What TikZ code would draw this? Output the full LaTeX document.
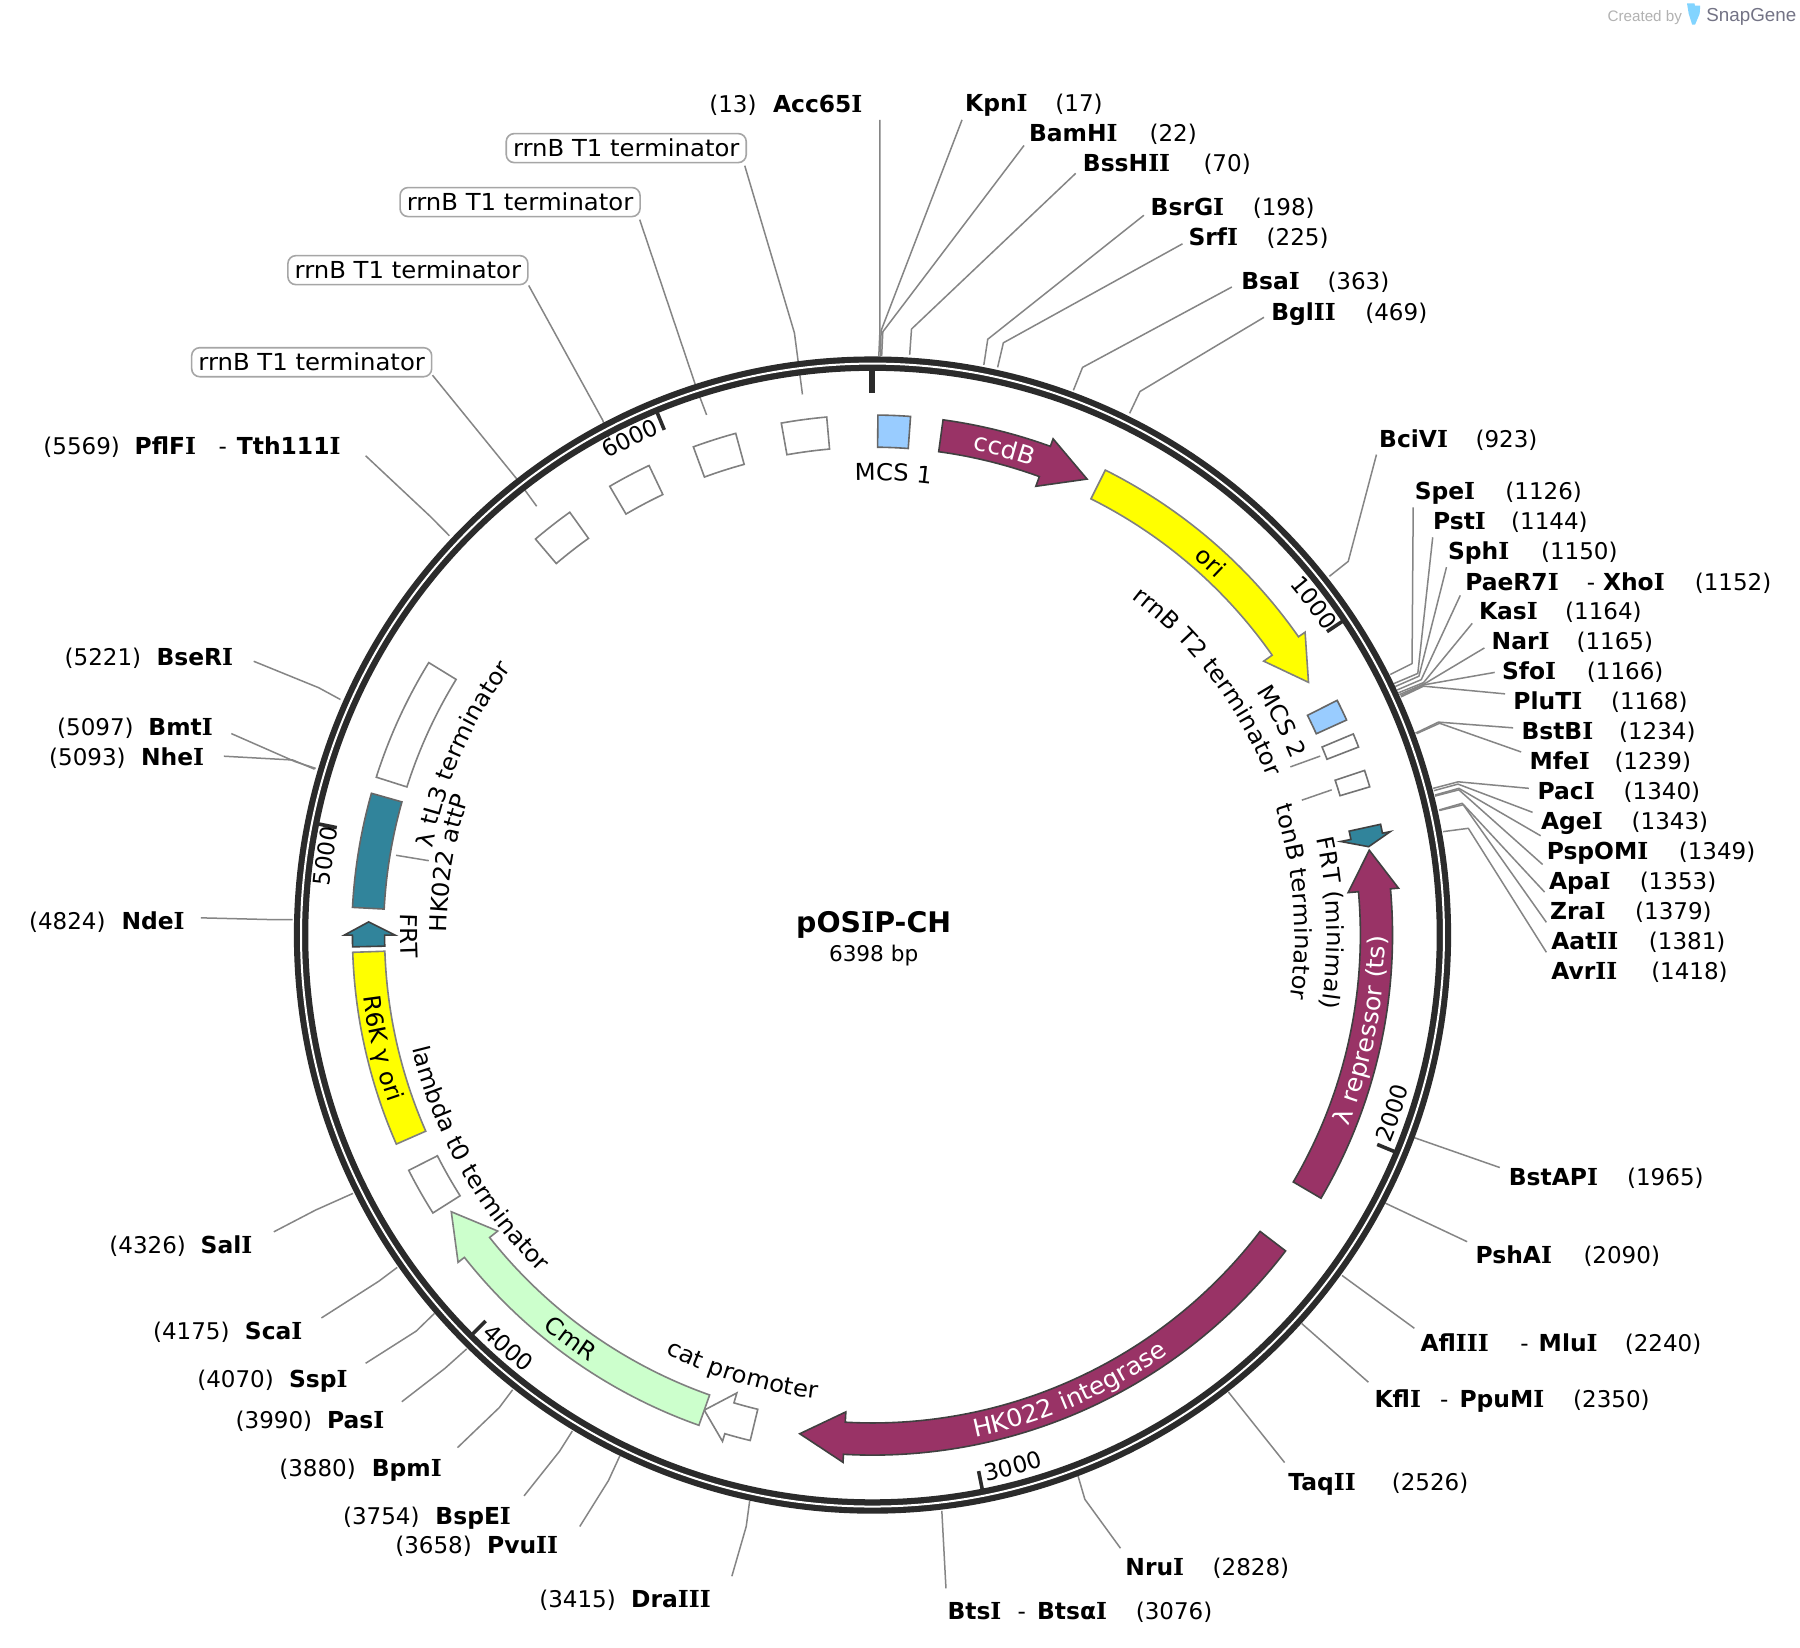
\documentclass[tikz,border=0pt]{standalone}
\usepackage{fontspec}
\setmainfont{DejaVu Sans}
\newfontfamily\logofont{Liberation Sans}
\newfontfamily\vIfont{DejaVu Serif}
\newfontfamily\stretchfont[FakeStretch=1.04]{DejaVu Sans}
\usetikzlibrary{decorations.text}
\definecolor{maroonf}{HTML}{993366}
\definecolor{tealf}{HTML}{31849B}
\definecolor{bluef}{HTML}{99CCFF}
\definecolor{greenf}{HTML}{CCFFCC}
\definecolor{yellowf}{HTML}{FFFF00}
\definecolor{ringc}{HTML}{2B2B2B}
\definecolor{leadc}{HTML}{858585}
\newcommand{\fsz}{\fontsize{11.7}{14}\selectfont}
\newcommand{\fnum}{\fontsize{11.5}{14}\selectfont}
\newcommand{\ftxt}{\stretchfont\fontsize{11.7}{14}\selectfont}
\newcommand{\fwht}{\stretchfont\fontsize{12.2}{14}\selectfont\color{white}}
\newcommand{\vI}{{\vIfont I}}
\tikzset{
  lab/.style={anchor=base west,inner sep=0pt,font=\fnum},
  labb/.style={anchor=base west,inner sep=0pt,font=\fsz\bfseries},
  leader/.style={draw=leadc,line width=.75pt,line join=round},
  featline/.style={draw=#1,line width=.8pt,line join=miter},
  tickmark/.style={draw=ringc,line width=1.8pt},
  termbox/.style={draw=black!35,line width=.8pt,rounded corners=4pt,minimum width=120pt,minimum height=14.5pt,inner sep=0pt,font=\ftxt,fill=white}
}
% id, x name, y centre, name, x number, number, three leader points
\newcommand{\enzyme}[9]{%
  \node[labb] (#1-n) at (#2,#3+7) {#4};
  \node[lab] (#1-p) at (#5,#3+7) {(#6)};
  \coordinate (#1-a) at (#7); \coordinate (#1-b) at (#8); \coordinate (#1-c) at (#9);
  \draw[leader] (#1-a) -- (#1-b) -- (#1-c);
}
\newcommand{\enzmore}[5]{%
  \node[lab] (#1-d) at (#2,#3+7) {-};
  \node[labb] (#1-m) at (#4,#3+7) {#5};
}
\newcommand{\blockf}[6]{% fill, line, th1, th2, r1, r2
  \draw[featline=#2,fill=#1] ({90-#3}:#6) arc[start angle={90-#3},end angle={90-#4},radius=#6]
    -- ({90-#4}:#5) arc[start angle={90-#4},end angle={90-#3},radius=#5] -- cycle;
}
\newcommand{\arrowf}[5]{% fill, line, th tail, th base, th tip
  \draw[featline=#2,fill=#1] ({90-#3}:453) arc[start angle={90-#3},end angle={90-#4},radius=453]
    -- ({90-#4}:460) -- ({90-#5}:439) -- ({90-#4}:416) -- ({90-#4}:425)
    arc[start angle={90-#4},end angle={90-#3},radius=425] -- cycle;
}
\newcommand{\cwlabel}[4]{%
  \path[decorate,decoration={text along path,text align=center,text={|#3|#4}}]
    ({90-(#2-30)}:#1) arc[start angle={90-(#2-30)},end angle={90-(#2+30)},radius=#1];
}
\newcommand{\ccwlabel}[4]{%
  \path[decorate,decoration={text along path,text align=center,text={|#3|#4}}]
    ({90-(#2+30)}:#1) arc[start angle={90-(#2+30)},end angle={90-(#2-30)},radius=#1];
}
\newcommand{\tickm}[1]{\draw[tickmark] ({90-#1}:476) -- ({90-#1}:492);}
\begin{document}
\begin{tikzpicture}[x=.574pt,y=-.574pt]
\useasboundingbox (0,0) rectangle (1567.94,1435.5);
\fill[white] (0,0) rectangle (1567.94,1435.5);
% logo
\node[anchor=base west,inner sep=0pt,text=black!30,font=\logofont\fontsize{7.6}{10}\selectfont] (created) at (1400,18.5) {Created by};
\node[anchor=base west,inner sep=0pt,text=black!30!blue!10!gray,font=\logofont\fontsize{9.4}{12}\selectfont] (snap) at (1486,19) {SnapGene};
\fill[bluef!85!cyan] (1469.5,3) -- (1476,3) -- (1476.5,5) -- (1481,5) -- (1480.5,12) -- (1476.5,21.5) -- (1474,21.5) -- (1471,12) -- cycle;
% right side enzymes
\enzyme{acc}{673}{90.7}{Acc65\vI}{617.5}{13}{766.5,104.5}{766.5,288}{765.5,310}
\enzyme{kpn}{840.4}{90}{Kpn\vI}{919}{17}{838,104.4}{767.5,288}{767,310}
\enzyme{bam}{896}{116.4}{BamH\vI}{1001}{22}{892,126.7}{769,289}{768,310}
\enzyme{bss}{943}{142.7}{BssH\vI\vI}{1048}{70}{937,151}{794,286.6}{792.4,309}
\enzyme{bsr}{1002}{181}{BsrG\vI}{1091}{198}{996.4,187.5}{860.4,295.5}{857,317.8}
\enzyme{srf}{1035}{207}{Srf\vI}{1103}{225}{1030,212.4}{874,298.6}{869,320}
\enzyme{bsa}{1081}{245}{Bsa\vI}{1156}{363}{1073,250}{943,320}{935,340}
\enzyme{bgl}{1107}{272}{Bgl\vI\vI}{1189}{469}{1101,276.4}{993,341}{984,360}
\enzyme{bci}{1201}{383}{BciV\vI}{1285}{923}{1199,396}{1174.4,489}{1158,502}
\enzyme{spe}{1232}{428.4}{Spe\vI}{1311}{1126}{1231,442}{1230,578}{1211,587.5}
\enzyme{pst}{1248}{454}{Pst\vI}{1316}{1144}{1248,468}{1235,586.6}{1214,595.5}
\enzyme{sph}{1261}{480}{Sph\vI}{1342}{1150}{1260,494}{1236,589}{1215.4,598}
\enzyme{pae}{1276}{507}{PaeR7\vI}{1476}{1152}{1272,518.6}{1238,592}{1217,601}
\enzmore{pae}{1382}{507}{1396}{Xho\vI}
\enzyme{kas}{1288}{533}{Kas\vI}{1363}{1164}{1282.4,543}{1240,594.6}{1218,603.5}
\enzyme{nar}{1299}{559}{Nar\vI}{1373}{1165}{1293,564.4}{1241,595.5}{1219,605}
\enzyme{sfo}{1308}{585}{Sfo\vI}{1382}{1166}{1302,585.7}{1241,596.4}{1220,606}
\enzyme{plu}{1318}{611}{PluT\vI}{1403}{1168}{1311,604.4}{1240,597.7}{1220.4,607}
\enzyme{bstb}{1325}{637}{BstB\vI}{1410}{1234}{1318,634}{1253,629}{1233,638.6}
\enzyme{mfe}{1332}{663.5}{Mfe\vI}{1406}{1239}{1325,655}{1254,630}{1234,639}
\enzyme{pac}{1339}{689}{Pac\vI}{1414}{1340}{1331.8,686.7}{1270.2,681}{1248.4,686.7}
\enzyme{age}{1342}{715.6}{Age\vI}{1421}{1343}{1335,707.6}{1270,683}{1249,688.7}
\enzyme{psp}{1347}{742}{PspOM\vI}{1462}{1349}{1342,728}{1270.8,686.7}{1250,692.5}
\enzyme{apa}{1349}{768}{Apa\vI}{1428}{1353}{1343.7,753}{1270.8,688}{1250,693.4}
\enzyme{zra}{1350}{794}{Zra\vI}{1424}{1379}{1345.4,777}{1273.7,699.7}{1253.7,705.5}
\enzyme{aat}{1351}{820}{Aat\vI\vI}{1436}{1381}{1347,803.4}{1274.6,701}{1253.7,706}
\enzyme{avr}{1351}{846.5}{Avr\vI\vI}{1438}{1418}{1347,829.5}{1279,721.5}{1257,724.4}
\enzyme{bsta}{1314}{1026}{BstAP\vI}{1417}{1965}{1306.4,1017}{1232,991}{1232,991}
\enzyme{psh}{1285}{1094}{PshA\vI}{1379}{2090}{1278,1081.6}{1206,1047.7}{1206,1047.7}
\enzyme{afl}{1237}{1170.6}{Afl\vI\vI\vI}{1415}{2240}{1232,1157}{1169,1111}{1169,1111}
\enzmore{afl}{1324}{1170.6}{1340}{Mlu\vI}
\enzyme{kfl}{1197}{1219}{Kfl\vI}{1370}{2350}{1192,1204}{1134,1153}{1134,1153}
\enzmore{kfl}{1254}{1219}{1271}{PpuM\vI}
\enzyme{taq}{1122}{1291}{Taq\vI\vI}{1212}{2526}{1119,1274}{1070,1212.5}{1070,1212.5}
\enzyme{nru}{980}{1365.6}{Nru\vI}{1056}{2828}{976,1348.6}{945,1306}{939,1285.5}
\enzyme{bts}{825}{1404}{Bts\vI}{989}{3076}{824,1383.5}{820.4,1316}{820.4,1316}
\enzmore{bts}{886}{1404}{903}{Btsα\vI}
% left side enzymes
\enzyme{pfl}{117}{388.5}{PflF\vI}{37.5}{5569}{318.5,397}{375,450}{391.5,466.7}
\enzmore{pfl}{190}{388.5}{206}{Tth111\vI}
\enzyme{bse}{136}{573}{BseR\vI}{56}{5221}{221,576}{277.5,599}{296.5,609.3}
\enzyme{bmt}{129}{634}{Bmt\vI}{49.5}{5097}{201.5,639}{257.5,663.6}{275,669.3}
\enzyme{nhe}{122.5}{660}{Nhe\vI}{42.5}{5093}{195,658.7}{255,662}{274,670}
\enzyme{nde}{105.5}{803}{Nde\vI}{25}{4824}{175,799.5}{235,801}{255,801}
\enzyme{sal}{174.5}{1085}{Sal\vI}{95}{4326}{238.5,1073}{275,1054}{307.5,1039.5}
\enzyme{sca}{213}{1160}{Sca\vI}{133}{4175}{280,1148}{330,1116}{346,1104}
\enzyme{ssp}{251.5}{1202}{Ssp\vI}{171.5}{4070}{318.5,1187.5}{362.5,1159.5}{378.5,1144}
\enzyme{pas}{284.5}{1237}{Pas\vI}{205}{3990}{350,1221}{387.5,1192}{406.5,1175}
\enzyme{bpm}{323.5}{1279}{Bpm\vI}{243}{3880}{398.5,1261}{435,1226}{446.5,1210.6}
\enzyme{bspe}{379}{1321}{BspE\vI}{298.5}{3754}{456.5,1303}{487.5,1264}{498.5,1246.6}
\enzyme{pvu}{424}{1346.6}{Pvu\vI\vI}{344}{3658}{505,1329.7}{530,1289.7}{540,1268}
\enzyme{dra}{549.5}{1393.6}{Dra\vI\vI\vI}{469.5}{3415}{637.5,1373}{650,1329.7}{653,1307.5}
% rrnB T1 terminator leaders and boxes
\node[termbox] (t1a) at (545.5,129) {rrnB T1 terminator};
\node[termbox] (t1b) at (453,176) {rrnB T1 terminator};
\node[termbox] (t1c) at (355.3,235.3) {rrnB T1 terminator};
\node[termbox] (t1d) at (271.5,315.5) {rrnB T1 terminator};
\coordinate (t1a-b) at (692,290); \coordinate (t1a-c) at (699,343.6);
\coordinate (t1b-b) at (607,339); \coordinate (t1b-c) at (615.5,361.4);
\coordinate (t1c-b) at (525,366); \coordinate (t1c-c) at (531,383.6);
\coordinate (t1d-b) at (450,417); \coordinate (t1d-c) at (467.5,441);
\draw[leader] (t1a.south east) ++(-2,2) -- (t1a-b) -- (t1a-c);
\draw[leader] (t1b.south east) ++(-1,2) -- (t1b-b) -- (t1b-c);
\draw[leader] (t1c.south east) ++(0,0) -- (t1c-b) -- (t1c-c);
\draw[leader] (t1d.south east) ++(0,-2) -- (t1d-b) -- (t1d-c);
% inner leaders
\coordinate (t2a) at (1124,668); \coordinate (t2b) at (1150,658.6);
\coordinate (tba) at (1134,697); \coordinate (tbb) at (1160,688);
\coordinate (ata) at (345,745); \coordinate (atb) at (373.5,749.7);
\draw[leader] (t2a) -- (t2b);
\draw[leader] (tba) -- (tbb);
\draw[leader] (ata) -- (atb);
% centre
\node[inner sep=0pt,font=\fontsize{14.2}{17}\selectfont\bfseries] (title) at (761,806) {pOS\vI P-CH};
\node[inner sep=0pt,font=\fontsize{10.8}{13}\selectfont] (size) at (761,832) {6398 bp};
\begin{scope}[shift={(760,814.5)},x=.574pt,y=.574pt]
% backbone
\draw[ringc,line width=7.2pt] (0,0) circle[radius=497.75];
\draw[white,line width=1pt] (0,0) circle[radius=497.8];
\draw[ringc,line width=3pt] (90:492) -- (90:472);
\tickm{56.27}\tickm{112.53}\tickm{168.8}\tickm{225.07}\tickm{281.34}\tickm{337.6}
% features
\blockf{bluef}{black!60}{0.6}{4.2}{425}{453}
\arrowf{maroonf}{black!75}{7.8}{20}{25.2}
\arrowf{yellowf}{black!50}{26.6}{55}{59.9}
\blockf{bluef}{black!60}{63.2}{65.6}{424.5}{453.5}
\blockf{white}{black!55}{67.3}{68.85}{424.5}{454}
\blockf{white}{black!55}{71.5}{73.4}{425}{452}
\arrowf{tealf}{black!75}{77.7}{78.7}{79.9}
\arrowf{maroonf}{black!75}{120.4}{84.9}{80.3}
\arrowf{maroonf}{black!75}{127.4}{183.2}{188.3}
\arrowf{white}{black!50}{193.6}{196.5}{199.5}
\arrowf{greenf}{black!50}{199.5}{231.7}{236.7}
\blockf{white}{black!50}{237.7}{243.1}{425}{453}
\blockf{yellowf}{black!50}{246.3}{268.1}{425}{453}
\arrowf{tealf}{black!75}{268.7}{270}{271.5}
\blockf{tealf}{black!60}{273.05}{285.8}{426}{453.6}
\blockf{white}{black!50}{287.65}{301.55}{425.6}{453.6}
\blockf{white}{black!50}{319.6}{324.4}{425}{453}
\blockf{white}{black!50}{329.65}{334.55}{425}{453}
\blockf{white}{black!50}{339.85}{344.75}{425}{453}
\blockf{white}{black!50}{349.9}{354.95}{425}{453}
% curved labels, clockwise
\cwlabel{431.5}{15.2}{\fwht}{ccdB}
\cwlabel{431.5}{42.2}{\ftxt}{ori}
\cwlabel{396}{2.6}{\ftxt}{MCS 1}
\cwlabel{396}{62.5}{\ftxt}{MCS 2}
\cwlabel{370}{52.9}{\ftxt}{rrnB T2 terminator}
\cwlabel{368}{85.5}{\ftxt}{tonB terminator}
\cwlabel{396}{88.5}{\ftxt}{FRT (minimal)}
\cwlabel{371}{279.6}{\ftxt}{HK022 attP}
\cwlabel{391}{293.8}{\ftxt}{λ tL3 terminator}
% curved labels, counterclockwise
\ccwlabel{446.5}{101}{\fwht}{λ repressor (ts)}
\ccwlabel{446.5}{156.6}{\fwht}{HK022 integrase}
\ccwlabel{446.5}{216.8}{\ftxt}{CmR}
\ccwlabel{446.5}{257}{\ftxt}{R6K γ ori}
\ccwlabel{411.5}{269.9}{\ftxt}{FRT}
\ccwlabel{413}{240.4}{\ftxt}{lambda t0 terminator}
\ccwlabel{407}{196.6}{\ftxt}{cat promoter}
% tick labels
\cwlabel{474.5}{53}{\fnum}{1000}
\ccwlabel{486}{108.9}{\fnum}{2000}
\ccwlabel{486}{165.2}{\fnum}{3000}
\ccwlabel{487}{221.4}{\fnum}{4000}
\cwlabel{474.5}{278.2}{\fnum}{5000}
\cwlabel{474.5}{334}{\fnum}{6000}
\end{scope}
\end{tikzpicture}
\end{document}
